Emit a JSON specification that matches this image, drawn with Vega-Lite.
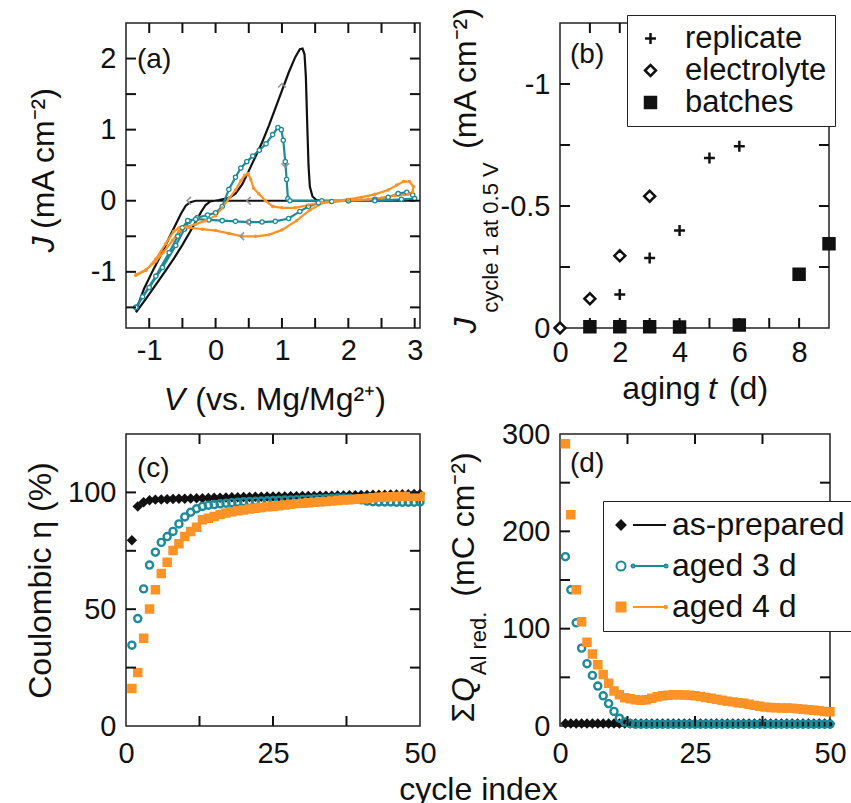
{
"$schema": "https://vega.github.io/schema/vega-lite/v6.json",
"padding": {"left": 23, "top": 5, "right": 0, "bottom": 0},
"config": {
  "font": "Liberation Sans",
  "view": {"stroke": "#222", "strokeWidth": 1.5},
  "axis": {"domain": false, "grid": false, "ticks": false, "labelFontSize": 29, "labelColor": "#111", "labelPadding": 10, "labelFlush": false, "labelOverlap": false, "labelBound": false, "titleFontSize": 32, "titleFontWeight": "normal", "titleColor": "#111", "titleBaseline": "alphabetic"},
  "title": {"anchor": "start", "frame": "group", "fontSize": 28, "fontWeight": "normal", "color": "#111", "baseline": "alphabetic", "offset": -51, "dx": 11},
  "tick": {"thickness": 2, "bandSize": 20}
},
"bounds": "flush",
"columns": 2,
"spacing": {"row": 106, "column": 140},
"resolve": {"scale": {"color": "independent", "stroke": "independent", "fill": "independent", "shape": "independent"}},
"datasets": {
  "arrows": [
    {"v":1.0,"j":1.62,"d":"up"},{"v":1.05,"j":0.5,"d":"down"},{"v":0.5,"j":0,"d":"left"},{"v":-0.4,"j":0,"d":"left"},{"v":0.5,"j":-0.3,"d":"left"},{"v":0.4,"j":-0.5,"d":"left"}
  ],
  "ta_x": [{"v":-1},{"v":-0.5},{"v":0},{"v":0.5},{"v":1},{"v":1.5},{"v":2},{"v":2.5},{"v":3}],
  "ta_y": [{"v":-1.5},{"v":-1},{"v":-0.5},{"v":0},{"v":0.5},{"v":1},{"v":1.5},{"v":2}],
  "tb_x": [{"v":1},{"v":2},{"v":3},{"v":4},{"v":5},{"v":6},{"v":7},{"v":8}],
  "tb_y": [{"v":-1},{"v":-0.75},{"v":-0.5},{"v":-0.25}],
  "tcd_x": [{"v":12.5},{"v":25},{"v":37.5}],
  "tc_y": [{"v":25},{"v":50},{"v":75},{"v":100}],
  "td_y": [{"v":50},{"v":100},{"v":150},{"v":200},{"v":250}],
  "cv": [
    {"s":"as-prepared","i":1,"v":-1.2,"j":-1.57},{"s":"as-prepared","i":2,"v":-1.05,"j":-1.38},{"s":"as-prepared","i":3,"v":-0.9,"j":-1.18},{"s":"as-prepared","i":4,"v":-0.75,"j":-0.98},{"s":"as-prepared","i":5,"v":-0.62,"j":-0.8},{"s":"as-prepared","i":6,"v":-0.5,"j":-0.62},{"s":"as-prepared","i":7,"v":-0.4,"j":-0.46},{"s":"as-prepared","i":8,"v":-0.3,"j":-0.3},{"s":"as-prepared","i":9,"v":-0.22,"j":-0.16},{"s":"as-prepared","i":10,"v":-0.15,"j":-0.06},{"s":"as-prepared","i":11,"v":-0.08,"j":-0.01},{"s":"as-prepared","i":12,"v":0.05,"j":0.01},{"s":"as-prepared","i":13,"v":0.2,"j":0.04},{"s":"as-prepared","i":14,"v":0.3,"j":0.1},{"s":"as-prepared","i":15,"v":0.4,"j":0.23},{"s":"as-prepared","i":16,"v":0.5,"j":0.42},{"s":"as-prepared","i":17,"v":0.6,"j":0.62},{"s":"as-prepared","i":18,"v":0.7,"j":0.82},{"s":"as-prepared","i":19,"v":0.8,"j":1.05},{"s":"as-prepared","i":20,"v":0.9,"j":1.3},{"s":"as-prepared","i":21,"v":1.0,"j":1.55},{"s":"as-prepared","i":22,"v":1.1,"j":1.8},{"s":"as-prepared","i":23,"v":1.2,"j":2.02},{"s":"as-prepared","i":24,"v":1.27,"j":2.13},{"s":"as-prepared","i":25,"v":1.31,"j":2.14},{"s":"as-prepared","i":26,"v":1.34,"j":2.06},{"s":"as-prepared","i":27,"v":1.36,"j":1.75},{"s":"as-prepared","i":28,"v":1.38,"j":1.1},{"s":"as-prepared","i":29,"v":1.4,"j":0.5},{"s":"as-prepared","i":30,"v":1.42,"j":0.2},{"s":"as-prepared","i":31,"v":1.46,"j":0.06},{"s":"as-prepared","i":32,"v":1.52,"j":0.01},{"s":"as-prepared","i":33,"v":1.62,"j":0},{"s":"as-prepared","i":34,"v":3.0,"j":0},{"s":"as-prepared","i":35,"v":-0.3,"j":0},{"s":"as-prepared","i":36,"v":-0.38,"j":-0.02},{"s":"as-prepared","i":37,"v":-0.45,"j":-0.07},{"s":"as-prepared","i":38,"v":-0.52,"j":-0.18},{"s":"as-prepared","i":39,"v":-0.6,"j":-0.33},{"s":"as-prepared","i":40,"v":-0.7,"j":-0.52},{"s":"as-prepared","i":41,"v":-0.8,"j":-0.72},{"s":"as-prepared","i":42,"v":-0.95,"j":-0.99},{"s":"as-prepared","i":43,"v":-1.08,"j":-1.24},{"s":"as-prepared","i":44,"v":-1.2,"j":-1.55},
    {"s":"aged 3 d","i":1,"v":-1.2,"j":-1.5},{"s":"aged 3 d","i":2,"v":-1.0,"j":-1.22},{"s":"aged 3 d","i":3,"v":-0.8,"j":-0.94},{"s":"aged 3 d","i":4,"v":-0.6,"j":-0.63},{"s":"aged 3 d","i":5,"v":-0.47,"j":-0.4},{"s":"aged 3 d","i":6,"v":-0.4,"j":-0.29},{"s":"aged 3 d","i":7,"v":-0.28,"j":-0.24},{"s":"aged 3 d","i":8,"v":-0.12,"j":-0.2},{"s":"aged 3 d","i":9,"v":0.0,"j":-0.17},{"s":"aged 3 d","i":10,"v":0.1,"j":-0.08},{"s":"aged 3 d","i":11,"v":0.2,"j":0.16},{"s":"aged 3 d","i":12,"v":0.3,"j":0.33},{"s":"aged 3 d","i":13,"v":0.38,"j":0.46},{"s":"aged 3 d","i":14,"v":0.47,"j":0.55},{"s":"aged 3 d","i":15,"v":0.56,"j":0.63},{"s":"aged 3 d","i":16,"v":0.66,"j":0.71},{"s":"aged 3 d","i":17,"v":0.76,"j":0.8},{"s":"aged 3 d","i":18,"v":0.86,"j":0.93},{"s":"aged 3 d","i":19,"v":0.94,"j":1.03},{"s":"aged 3 d","i":20,"v":0.99,"j":1.0},{"s":"aged 3 d","i":21,"v":1.02,"j":0.85},{"s":"aged 3 d","i":22,"v":1.05,"j":0.55},{"s":"aged 3 d","i":23,"v":1.07,"j":0.3},{"s":"aged 3 d","i":24,"v":1.09,"j":0.03},{"s":"aged 3 d","i":25,"v":1.12,"j":0.0},{"s":"aged 3 d","i":26,"v":1.6,"j":0.0},{"s":"aged 3 d","i":27,"v":2.0,"j":0.0},{"s":"aged 3 d","i":28,"v":2.4,"j":0.02},{"s":"aged 3 d","i":29,"v":2.6,"j":0.05},{"s":"aged 3 d","i":30,"v":2.75,"j":0.1},{"s":"aged 3 d","i":31,"v":2.88,"j":0.12},{"s":"aged 3 d","i":32,"v":2.97,"j":0.08},{"s":"aged 3 d","i":33,"v":3.0,"j":0.03},{"s":"aged 3 d","i":34,"v":2.8,"j":0.02},{"s":"aged 3 d","i":35,"v":2.4,"j":0.0},{"s":"aged 3 d","i":36,"v":2.0,"j":0.0},{"s":"aged 3 d","i":37,"v":1.75,"j":-0.01},{"s":"aged 3 d","i":38,"v":1.55,"j":-0.03},{"s":"aged 3 d","i":39,"v":1.4,"j":-0.08},{"s":"aged 3 d","i":40,"v":1.27,"j":-0.15},{"s":"aged 3 d","i":41,"v":1.1,"j":-0.25},{"s":"aged 3 d","i":42,"v":0.9,"j":-0.29},{"s":"aged 3 d","i":43,"v":0.7,"j":-0.3},{"s":"aged 3 d","i":44,"v":0.5,"j":-0.3},{"s":"aged 3 d","i":45,"v":0.3,"j":-0.29},{"s":"aged 3 d","i":46,"v":0.1,"j":-0.28},{"s":"aged 3 d","i":47,"v":-0.1,"j":-0.27},{"s":"aged 3 d","i":48,"v":-0.3,"j":-0.26},{"s":"aged 3 d","i":49,"v":-0.42,"j":-0.28},{"s":"aged 3 d","i":50,"v":-0.5,"j":-0.38},{"s":"aged 3 d","i":51,"v":-0.57,"j":-0.5},{"s":"aged 3 d","i":52,"v":-0.7,"j":-0.73},{"s":"aged 3 d","i":53,"v":-0.9,"j":-1.06},{"s":"aged 3 d","i":54,"v":-1.1,"j":-1.35},{"s":"aged 3 d","i":55,"v":-1.2,"j":-1.5},
    {"s":"aged 4 d","i":1,"v":-1.2,"j":-1.04},{"s":"aged 4 d","i":2,"v":-1.05,"j":-0.97},{"s":"aged 4 d","i":3,"v":-0.9,"j":-0.85},{"s":"aged 4 d","i":4,"v":-0.78,"j":-0.72},{"s":"aged 4 d","i":5,"v":-0.65,"j":-0.56},{"s":"aged 4 d","i":6,"v":-0.55,"j":-0.43},{"s":"aged 4 d","i":7,"v":-0.45,"j":-0.37},{"s":"aged 4 d","i":8,"v":-0.3,"j":-0.33},{"s":"aged 4 d","i":9,"v":-0.15,"j":-0.28},{"s":"aged 4 d","i":10,"v":0.0,"j":-0.21},{"s":"aged 4 d","i":11,"v":0.1,"j":-0.1},{"s":"aged 4 d","i":12,"v":0.2,"j":0.03},{"s":"aged 4 d","i":13,"v":0.3,"j":0.15},{"s":"aged 4 d","i":14,"v":0.38,"j":0.28},{"s":"aged 4 d","i":15,"v":0.44,"j":0.36},{"s":"aged 4 d","i":16,"v":0.49,"j":0.38},{"s":"aged 4 d","i":17,"v":0.53,"j":0.3},{"s":"aged 4 d","i":18,"v":0.57,"j":0.18},{"s":"aged 4 d","i":19,"v":0.65,"j":0.1},{"s":"aged 4 d","i":20,"v":0.75,"j":0.0},{"s":"aged 4 d","i":21,"v":0.86,"j":-0.08},{"s":"aged 4 d","i":22,"v":1.0,"j":-0.1},{"s":"aged 4 d","i":23,"v":1.2,"j":-0.1},{"s":"aged 4 d","i":24,"v":1.4,"j":-0.06},{"s":"aged 4 d","i":25,"v":1.6,"j":-0.02},{"s":"aged 4 d","i":26,"v":1.8,"j":0.0},{"s":"aged 4 d","i":27,"v":2.0,"j":0.02},{"s":"aged 4 d","i":28,"v":2.2,"j":0.05},{"s":"aged 4 d","i":29,"v":2.4,"j":0.09},{"s":"aged 4 d","i":30,"v":2.6,"j":0.15},{"s":"aged 4 d","i":31,"v":2.73,"j":0.22},{"s":"aged 4 d","i":32,"v":2.83,"j":0.27},{"s":"aged 4 d","i":33,"v":2.92,"j":0.27},{"s":"aged 4 d","i":34,"v":2.98,"j":0.2},{"s":"aged 4 d","i":35,"v":2.97,"j":0.12},{"s":"aged 4 d","i":36,"v":2.9,"j":0.09},{"s":"aged 4 d","i":37,"v":2.7,"j":0.07},{"s":"aged 4 d","i":38,"v":2.5,"j":0.04},{"s":"aged 4 d","i":39,"v":2.3,"j":0.02},{"s":"aged 4 d","i":40,"v":2.0,"j":0.0},{"s":"aged 4 d","i":41,"v":1.8,"j":-0.01},{"s":"aged 4 d","i":42,"v":1.62,"j":-0.03},{"s":"aged 4 d","i":43,"v":1.42,"j":-0.13},{"s":"aged 4 d","i":44,"v":1.22,"j":-0.28},{"s":"aged 4 d","i":45,"v":1.0,"j":-0.41},{"s":"aged 4 d","i":46,"v":0.8,"j":-0.48},{"s":"aged 4 d","i":47,"v":0.6,"j":-0.5},{"s":"aged 4 d","i":48,"v":0.4,"j":-0.5},{"s":"aged 4 d","i":49,"v":0.2,"j":-0.46},{"s":"aged 4 d","i":50,"v":0.0,"j":-0.42},{"s":"aged 4 d","i":51,"v":-0.2,"j":-0.4},{"s":"aged 4 d","i":52,"v":-0.4,"j":-0.38},{"s":"aged 4 d","i":53,"v":-0.55,"j":-0.38},{"s":"aged 4 d","i":54,"v":-0.63,"j":-0.43},{"s":"aged 4 d","i":55,"v":-0.75,"j":-0.6},{"s":"aged 4 d","i":56,"v":-0.9,"j":-0.82},{"s":"aged 4 d","i":57,"v":-1.05,"j":-0.98},{"s":"aged 4 d","i":58,"v":-1.2,"j":-1.05}
  ],
  "aging": [
    {"t":0,"j":0,"s":"replicate"},{"t":2,"j":-0.137,"s":"replicate"},{"t":3,"j":-0.287,"s":"replicate"},{"t":4,"j":-0.4,"s":"replicate"},{"t":5,"j":-0.697,"s":"replicate"},{"t":6,"j":-0.745,"s":"replicate"},
    {"t":0,"j":0,"s":"electrolyte"},{"t":1,"j":-0.12,"s":"electrolyte"},{"t":2,"j":-0.296,"s":"electrolyte"},{"t":3,"j":-0.54,"s":"electrolyte"},
    {"t":1,"j":-0.005,"s":"batches"},{"t":2,"j":-0.005,"s":"batches"},{"t":3,"j":-0.005,"s":"batches"},{"t":4,"j":-0.004,"s":"batches"},{"t":6,"j":-0.012,"s":"batches"},{"t":8,"j":-0.22,"s":"batches"},{"t":9,"j":-0.345,"s":"batches"}
  ],
  "cyc": [
    {"s":"as-prepared","c":1,"e":79.5,"q":2.5},{"s":"as-prepared","c":2,"e":94,"q":2.5},{"s":"as-prepared","c":3,"e":95.8,"q":2.5},{"s":"as-prepared","c":4,"e":96.6,"q":2.5},{"s":"as-prepared","c":5,"e":96.9,"q":2.5},{"s":"as-prepared","c":6,"e":97.0,"q":2.5},{"s":"as-prepared","c":7,"e":97.1,"q":2.5},{"s":"as-prepared","c":8,"e":97.2,"q":2.5},{"s":"as-prepared","c":9,"e":97.3,"q":2.5},{"s":"as-prepared","c":10,"e":97.3,"q":2.5},
    {"s":"as-prepared","c":11,"e":97.4,"q":2.5},{"s":"as-prepared","c":12,"e":97.5,"q":2.5},{"s":"as-prepared","c":13,"e":97.5,"q":2.5},{"s":"as-prepared","c":14,"e":97.6,"q":2.5},{"s":"as-prepared","c":15,"e":97.7,"q":2.5},{"s":"as-prepared","c":16,"e":97.7,"q":2.5},{"s":"as-prepared","c":17,"e":97.8,"q":2.5},{"s":"as-prepared","c":18,"e":97.9,"q":2.5},{"s":"as-prepared","c":19,"e":97.9,"q":2.5},{"s":"as-prepared","c":20,"e":98.0,"q":2.5},
    {"s":"as-prepared","c":21,"e":98.0,"q":2.5},{"s":"as-prepared","c":22,"e":98.1,"q":2.5},{"s":"as-prepared","c":23,"e":98.1,"q":2.5},{"s":"as-prepared","c":24,"e":98.2,"q":2.5},{"s":"as-prepared","c":25,"e":98.2,"q":2.5},{"s":"as-prepared","c":26,"e":98.3,"q":2.5},{"s":"as-prepared","c":27,"e":98.3,"q":2.5},{"s":"as-prepared","c":28,"e":98.4,"q":2.5},{"s":"as-prepared","c":29,"e":98.4,"q":2.5},{"s":"as-prepared","c":30,"e":98.5,"q":2.5},
    {"s":"as-prepared","c":31,"e":98.5,"q":2.5},{"s":"as-prepared","c":32,"e":98.5,"q":2.5},{"s":"as-prepared","c":33,"e":98.6,"q":2.5},{"s":"as-prepared","c":34,"e":98.6,"q":2.5},{"s":"as-prepared","c":35,"e":98.6,"q":2.5},{"s":"as-prepared","c":36,"e":98.7,"q":2.5},{"s":"as-prepared","c":37,"e":98.7,"q":2.5},{"s":"as-prepared","c":38,"e":98.8,"q":2.5},{"s":"as-prepared","c":39,"e":98.8,"q":2.5},{"s":"as-prepared","c":40,"e":98.9,"q":2.5},
    {"s":"as-prepared","c":41,"e":98.9,"q":2.5},{"s":"as-prepared","c":42,"e":99.0,"q":2.5},{"s":"as-prepared","c":43,"e":99.0,"q":2.5},{"s":"as-prepared","c":44,"e":99.0,"q":2.5},{"s":"as-prepared","c":45,"e":99.1,"q":2.5},{"s":"as-prepared","c":46,"e":99.1,"q":2.5},{"s":"as-prepared","c":47,"e":99.2,"q":2.5},{"s":"as-prepared","c":48,"e":99.2,"q":2.5},{"s":"as-prepared","c":49,"e":99.3,"q":2.5},{"s":"as-prepared","c":50,"e":99.3,"q":2.5},
    {"s":"aged 3 d","c":1,"e":34.6,"q":174},{"s":"aged 3 d","c":2,"e":46,"q":140},{"s":"aged 3 d","c":3,"e":58.7,"q":106},{"s":"aged 3 d","c":4,"e":68.9,"q":80},{"s":"aged 3 d","c":5,"e":74.4,"q":64},{"s":"aged 3 d","c":6,"e":78.6,"q":52},{"s":"aged 3 d","c":7,"e":81.1,"q":41},{"s":"aged 3 d","c":8,"e":83.3,"q":31},{"s":"aged 3 d","c":9,"e":86.5,"q":23},{"s":"aged 3 d","c":10,"e":89.5,"q":15},
    {"s":"aged 3 d","c":11,"e":91.5,"q":8},{"s":"aged 3 d","c":12,"e":93,"q":4},{"s":"aged 3 d","c":13,"e":94,"q":2.5},{"s":"aged 3 d","c":14,"e":94.5,"q":1.8},{"s":"aged 3 d","c":15,"e":94.8,"q":1.8},{"s":"aged 3 d","c":16,"e":95.1,"q":1.8},{"s":"aged 3 d","c":17,"e":95.4,"q":1.8},{"s":"aged 3 d","c":18,"e":95.6,"q":1.8},{"s":"aged 3 d","c":19,"e":95.8,"q":1.8},{"s":"aged 3 d","c":20,"e":96,"q":1.8},
    {"s":"aged 3 d","c":21,"e":96.1,"q":1.8},{"s":"aged 3 d","c":22,"e":96.2,"q":1.8},{"s":"aged 3 d","c":23,"e":96.3,"q":1.8},{"s":"aged 3 d","c":24,"e":96.4,"q":1.8},{"s":"aged 3 d","c":25,"e":96.5,"q":1.8},{"s":"aged 3 d","c":26,"e":96.6,"q":1.8},{"s":"aged 3 d","c":27,"e":96.7,"q":1.8},{"s":"aged 3 d","c":28,"e":96.8,"q":1.8},{"s":"aged 3 d","c":29,"e":96.9,"q":1.8},{"s":"aged 3 d","c":30,"e":97,"q":1.8},
    {"s":"aged 3 d","c":31,"e":97.1,"q":1.8},{"s":"aged 3 d","c":32,"e":97.2,"q":1.8},{"s":"aged 3 d","c":33,"e":97.3,"q":1.8},{"s":"aged 3 d","c":34,"e":97.4,"q":1.8},{"s":"aged 3 d","c":35,"e":97.5,"q":1.8},{"s":"aged 3 d","c":36,"e":97.6,"q":1.8},{"s":"aged 3 d","c":37,"e":97.6,"q":1.8},{"s":"aged 3 d","c":38,"e":97.5,"q":1.8},{"s":"aged 3 d","c":39,"e":97.2,"q":1.8},{"s":"aged 3 d","c":40,"e":96.8,"q":1.8},
    {"s":"aged 3 d","c":41,"e":96.3,"q":1.8},{"s":"aged 3 d","c":42,"e":96,"q":1.8},{"s":"aged 3 d","c":43,"e":95.9,"q":1.8},{"s":"aged 3 d","c":44,"e":95.9,"q":1.8},{"s":"aged 3 d","c":45,"e":95.9,"q":1.8},{"s":"aged 3 d","c":46,"e":95.8,"q":1.8},{"s":"aged 3 d","c":47,"e":95.8,"q":1.8},{"s":"aged 3 d","c":48,"e":95.8,"q":1.8},{"s":"aged 3 d","c":49,"e":95.8,"q":1.8},{"s":"aged 3 d","c":50,"e":95.9,"q":1.8},
    {"s":"aged 4 d","c":1,"e":16.1,"q":290},{"s":"aged 4 d","c":2,"e":22.9,"q":217},{"s":"aged 4 d","c":3,"e":37.6,"q":140},{"s":"aged 4 d","c":4,"e":50.1,"q":107},{"s":"aged 4 d","c":5,"e":58.3,"q":86},{"s":"aged 4 d","c":6,"e":65.3,"q":74},{"s":"aged 4 d","c":7,"e":70.1,"q":63},{"s":"aged 4 d","c":8,"e":75.1,"q":53},{"s":"aged 4 d","c":9,"e":78,"q":44},{"s":"aged 4 d","c":10,"e":81.1,"q":36},
    {"s":"aged 4 d","c":11,"e":83.3,"q":32},{"s":"aged 4 d","c":12,"e":85.1,"q":29},{"s":"aged 4 d","c":13,"e":88.3,"q":28},{"s":"aged 4 d","c":14,"e":88.9,"q":27},{"s":"aged 4 d","c":15,"e":89.7,"q":26.5},{"s":"aged 4 d","c":16,"e":90.5,"q":27},{"s":"aged 4 d","c":17,"e":91.2,"q":28.5},{"s":"aged 4 d","c":18,"e":91.7,"q":30},{"s":"aged 4 d","c":19,"e":92.1,"q":31},{"s":"aged 4 d","c":20,"e":92.5,"q":31.5},
    {"s":"aged 4 d","c":21,"e":92.9,"q":32},{"s":"aged 4 d","c":22,"e":93.2,"q":32},{"s":"aged 4 d","c":23,"e":93.5,"q":31.8},{"s":"aged 4 d","c":24,"e":93.8,"q":31.5},{"s":"aged 4 d","c":25,"e":94,"q":31},{"s":"aged 4 d","c":26,"e":94.3,"q":30.2},{"s":"aged 4 d","c":27,"e":94.6,"q":29.3},{"s":"aged 4 d","c":28,"e":94.9,"q":28.4},{"s":"aged 4 d","c":29,"e":95.2,"q":27.5},{"s":"aged 4 d","c":30,"e":95.4,"q":26.5},
    {"s":"aged 4 d","c":31,"e":95.6,"q":25.5},{"s":"aged 4 d","c":32,"e":95.8,"q":24.8},{"s":"aged 4 d","c":33,"e":96,"q":24},{"s":"aged 4 d","c":34,"e":96.1,"q":23.3},{"s":"aged 4 d","c":35,"e":96.3,"q":22.3},{"s":"aged 4 d","c":36,"e":96.5,"q":21.2},{"s":"aged 4 d","c":37,"e":96.7,"q":20.2},{"s":"aged 4 d","c":38,"e":96.9,"q":19.4},{"s":"aged 4 d","c":39,"e":97.1,"q":19},{"s":"aged 4 d","c":40,"e":97.3,"q":18.8},
    {"s":"aged 4 d","c":41,"e":97.5,"q":18.6},{"s":"aged 4 d","c":42,"e":97.7,"q":18.4},{"s":"aged 4 d","c":43,"e":97.9,"q":18.2},{"s":"aged 4 d","c":44,"e":98,"q":17.8},{"s":"aged 4 d","c":45,"e":98.1,"q":17.3},{"s":"aged 4 d","c":46,"e":98.2,"q":16.8},{"s":"aged 4 d","c":47,"e":98.2,"q":16.2},{"s":"aged 4 d","c":48,"e":98.3,"q":15.6},{"s":"aged 4 d","c":49,"e":98.3,"q":15},{"s":"aged 4 d","c":50,"e":98.3,"q":14.6}
  ]
},
"concat": [
  {
    "width": 294, "height": 305,
    "title": {"text": "(a)"},
    "layer": [
      {"data": {"name": "cv"},
       "mark": {"type": "line", "strokeWidth": 2.2},
       "encoding": {
         "x": {"field": "v", "type": "quantitative", "scale": {"domain": [-1.35, 3.08], "nice": false, "zero": false},
               "axis": {"values": [-1,-0.5,0,0.5,1,1.5,2,2.5,3], "labelPadding": 8, "labelExpr": "datum.value % 1 === 0 ? (datum.value < 0 ? '-' : '') + abs(datum.value) : ''", "title": "V", "titleFontStyle": "italic", "titleX": 48, "titleY": 81, "titleAlign": "center"}},
         "y": {"field": "j", "type": "quantitative", "scale": {"domain": [-1.79, 2.5], "nice": false, "zero": false},
               "axis": {"values": [-1.5,-1,-0.5,0,0.5,1,1.5,2], "labelExpr": "datum.value % 1 === 0 ? (datum.value < 0 ? '-' : '') + abs(datum.value) : ''", "title": "J", "titleFontStyle": "italic", "titleX": -73, "titleY": 221, "titleAngle": 270, "titleAlign": "center"}},
         "order": {"field": "i", "type": "quantitative"},
         "color": {"field": "s", "type": "nominal", "scale": {"domain": ["as-prepared", "aged 3 d", "aged 4 d"], "range": ["#111111", "#1d8a98", "#fd9226"]}, "legend": null}
       }},
      {"data": {"name": "cv"},
       "transform": [{"filter": "datum.s === 'aged 3 d'"}],
       "mark": {"type": "point", "shape": "circle", "size": 18, "strokeWidth": 1.3, "color": "#1d8a98", "filled": false, "fill": "white", "opacity": 1},
       "encoding": {
         "x": {"field": "v", "type": "quantitative", "scale": {"domain": [-1.35, 3.08], "nice": false, "zero": false}, "axis": null},
         "y": {"field": "j", "type": "quantitative", "scale": {"domain": [-1.79, 2.5], "nice": false, "zero": false}, "axis": null}
       }},
      {"data": {"name": "cv"},
       "transform": [{"filter": "datum.s === 'aged 4 d'"}],
       "mark": {"type": "point", "shape": "circle", "size": 12, "filled": true, "color": "#fd9226", "opacity": 1},
       "encoding": {
         "x": {"field": "v", "type": "quantitative", "scale": {"domain": [-1.35, 3.08], "nice": false, "zero": false}, "axis": null},
         "y": {"field": "j", "type": "quantitative", "scale": {"domain": [-1.79, 2.5], "nice": false, "zero": false}, "axis": null}
       }},
      {"data": {"name": "arrows"},
       "mark": {"type": "point", "size": 60, "strokeWidth": 1.6, "color": "#8c8c8c", "filled": false, "opacity": 0.9},
       "encoding": {
         "x": {"field": "v", "type": "quantitative", "scale": {"domain": [-1.35, 3.08], "nice": false, "zero": false}, "axis": null},
         "y": {"field": "j", "type": "quantitative", "scale": {"domain": [-1.79, 2.5], "nice": false, "zero": false}, "axis": null},
         "shape": {"field": "d", "type": "nominal", "scale": {"domain": ["left", "down", "up"], "range": ["M0.5,-1L-0.5,0L0.5,1", "M-1,-0.5L0,0.5L1,-0.5", "M-1,0.5L0,-0.5L1,0.5"]}, "legend": null}
       }},
      {"data": {"name": "ta_x"},
       "mark": {"type": "tick", "orient": "vertical", "size": 20, "thickness": 2, "color": "#111111", "opacity": 1, "clip": true},
       "encoding": {
         "x": {"field": "v", "type": "quantitative", "scale": {"domain": [-1.35, 3.08], "nice": false, "zero": false}, "axis": null},
         "y": {"datum": 2.5, "type": "quantitative", "scale": {"domain": [-1.79, 2.5], "nice": false, "zero": false}, "axis": null}
       }},
      {"data": {"name": "ta_x"},
       "mark": {"type": "tick", "orient": "vertical", "size": 20, "thickness": 2, "color": "#111111", "opacity": 1, "clip": true},
       "encoding": {
         "x": {"field": "v", "type": "quantitative", "scale": {"domain": [-1.35, 3.08], "nice": false, "zero": false}, "axis": null},
         "y": {"datum": -1.79, "type": "quantitative", "scale": {"domain": [-1.79, 2.5], "nice": false, "zero": false}, "axis": null}
       }},
      {"data": {"name": "ta_y"},
       "mark": {"type": "tick", "orient": "horizontal", "size": 20, "thickness": 2, "color": "#111111", "opacity": 1, "clip": true},
       "encoding": {
         "y": {"field": "v", "type": "quantitative", "scale": {"domain": [-1.79, 2.5], "nice": false, "zero": false}, "axis": null},
         "x": {"datum": -1.35, "type": "quantitative", "scale": {"domain": [-1.35, 3.08], "nice": false, "zero": false}, "axis": null}
       }},
      {"data": {"name": "ta_y"},
       "mark": {"type": "tick", "orient": "horizontal", "size": 20, "thickness": 2, "color": "#111111", "opacity": 1, "clip": true},
       "encoding": {
         "y": {"field": "v", "type": "quantitative", "scale": {"domain": [-1.79, 2.5], "nice": false, "zero": false}, "axis": null},
         "x": {"datum": 3.08, "type": "quantitative", "scale": {"domain": [-1.35, 3.08], "nice": false, "zero": false}, "axis": null}
       }},
      {"data": {"name": "cv"},
       "mark": {"type": "point", "opacity": 0},
       "encoding": {
         "x": {"field": "v", "type": "quantitative", "scale": {"domain": [-1.35, 3.08], "nice": false, "zero": false}, "axis": {"orient": "bottom", "labels": false, "title": "(vs. Mg/Mg²⁺)", "titleX": 164, "titleY": 81, "titleAlign": "center"}},
         "y": {"field": "j", "type": "quantitative", "scale": {"domain": [-1.79, 2.5], "nice": false, "zero": false}, "axis": {"orient": "left", "labels": false, "title": "(mA cm⁻²)", "titleX": -73, "titleY": 135, "titleAngle": 270, "titleAlign": "center"}}
       }}
    ],
    "resolve": {"axis": {"x": "independent", "y": "independent"}}
  },
  {
    "width": 269, "height": 305,
    "title": {"text": "(b)", "offset": -62, "dx": 10},
    "data": {"name": "aging"},
    "layer": [
      {"mark": {"type": "point", "size": 120, "strokeWidth": 2.5, "stroke": "#111111", "opacity": 1},
       "encoding": {
         "x": {"field": "t", "type": "quantitative", "scale": {"domain": [0, 9], "nice": false, "zero": false},
               "axis": {"values": [0,1,2,3,4,5,6,7,8,9], "labelExpr": "datum.value % 2 === 0 && datum.value < 9 ? '' + datum.value : ''", "title": "aging", "titleX": 101, "titleY": 70, "titleAlign": "center"}},
         "y": {"field": "j", "type": "quantitative", "scale": {"domain": [-1.25, 0], "reverse": true, "nice": false, "zero": false},
               "axis": {"values": [-1,-0.75,-0.5,-0.25,0], "labelExpr": "datum.value % 0.5 === 0 ? (datum.value < 0 ? '-' : '') + abs(datum.value) : ''", "title": "J", "titleFontStyle": "italic", "titleX": -85, "titleY": 302, "titleAngle": 270, "titleAlign": "center"}},
         "shape": {"field": "s", "type": "nominal", "scale": {"domain": ["replicate", "electrolyte", "batches"], "range": ["M-1,0H1M0,-1V1", "diamond", "square"]}, "legend": null},
         "fill": {"field": "s", "type": "nominal", "scale": {"domain": ["replicate", "electrolyte", "batches"], "range": ["transparent", "white", "#111111"]}, "legend": null}
       }},
      {"transform": [{"filter": "false"}],
       "mark": {"type": "point", "size": 120, "strokeWidth": 2.5, "opacity": 1},
       "encoding": {
         "x": {"field": "t", "type": "quantitative", "scale": {"domain": [0, 9], "nice": false, "zero": false}, "axis": null},
         "y": {"field": "j", "type": "quantitative", "scale": {"domain": [-1.25, 0], "reverse": true, "nice": false, "zero": false}, "axis": null},
         "shape": {"field": "s", "type": "nominal", "scale": {"domain": ["replicate", "electrolyte", "batches"], "range": ["M-1,0H1M0,-1V1", "diamond", "square"]},
                   "legend": {"orient": "none", "legendX": 67, "legendY": -8, "title": null, "labelFontSize": 31, "labelColor": "#111", "padding": 8, "strokeColor": "#222", "fillColor": "white", "symbolStrokeWidth": 2.5, "symbolSize": 120, "labelOffset": 19, "rowPadding": 0}},
         "fill": {"field": "s", "type": "nominal", "scale": {"domain": ["replicate", "electrolyte", "batches"], "range": ["transparent", "white", "#111111"]},
                  "legend": {"orient": "none", "legendX": 67, "legendY": -8, "title": null, "labelFontSize": 31, "labelColor": "#111", "padding": 8, "strokeColor": "#222", "fillColor": "white", "symbolStrokeWidth": 2.5, "symbolSize": 120, "labelOffset": 19, "rowPadding": 0}},
         "stroke": {"field": "s", "type": "nominal", "scale": {"domain": ["replicate", "electrolyte", "batches"], "range": ["#111111", "#111111", "#111111"]},
                  "legend": {"orient": "none", "legendX": 67, "legendY": -8, "title": null, "labelFontSize": 31, "labelColor": "#111", "padding": 8, "strokeColor": "#222", "fillColor": "white", "symbolStrokeWidth": 2.5, "symbolSize": 120, "labelOffset": 19, "rowPadding": 0}}
       }},
      {"data": {"name": "tb_x"},
       "mark": {"type": "tick", "orient": "vertical", "size": 20, "thickness": 2, "color": "#111111", "opacity": 1, "clip": true},
       "encoding": {
         "x": {"field": "v", "type": "quantitative", "scale": {"domain": [0, 9], "nice": false, "zero": false}, "axis": null},
         "y": {"datum": -1.25, "type": "quantitative", "scale": {"domain": [-1.25, 0], "reverse": true, "nice": false, "zero": false}, "axis": null}
       }},
      {"data": {"name": "tb_x"},
       "mark": {"type": "tick", "orient": "vertical", "size": 20, "thickness": 2, "color": "#111111", "opacity": 1, "clip": true},
       "encoding": {
         "x": {"field": "v", "type": "quantitative", "scale": {"domain": [0, 9], "nice": false, "zero": false}, "axis": null},
         "y": {"datum": 0, "type": "quantitative", "scale": {"domain": [-1.25, 0], "reverse": true, "nice": false, "zero": false}, "axis": null}
       }},
      {"data": {"name": "tb_y"},
       "mark": {"type": "tick", "orient": "horizontal", "size": 20, "thickness": 2, "color": "#111111", "opacity": 1, "clip": true},
       "encoding": {
         "y": {"field": "v", "type": "quantitative", "scale": {"domain": [-1.25, 0], "reverse": true, "nice": false, "zero": false}, "axis": null},
         "x": {"datum": 0, "type": "quantitative", "scale": {"domain": [0, 9], "nice": false, "zero": false}, "axis": null}
       }},
      {"data": {"name": "tb_y"},
       "mark": {"type": "tick", "orient": "horizontal", "size": 20, "thickness": 2, "color": "#111111", "opacity": 1, "clip": true},
       "encoding": {
         "y": {"field": "v", "type": "quantitative", "scale": {"domain": [-1.25, 0], "reverse": true, "nice": false, "zero": false}, "axis": null},
         "x": {"datum": 9, "type": "quantitative", "scale": {"domain": [0, 9], "nice": false, "zero": false}, "axis": null}
       }},
      {"mark": {"type": "point", "opacity": 0},
       "encoding": {
         "x": {"field": "t", "type": "quantitative", "scale": {"domain": [0, 9], "nice": false, "zero": false}, "axis": {"orient": "bottom", "labels": false, "title": "t", "titleFontStyle": "italic", "titleX": 152, "titleY": 70, "titleAlign": "center"}},
         "y": {"field": "j", "type": "quantitative", "scale": {"domain": [-1.25, 0], "reverse": true, "nice": false, "zero": false}, "axis": {"orient": "left", "labels": false, "title": "cycle 1 at 0.5 V", "titleFontSize": 22, "titleX": -63, "titleY": 214, "titleAngle": 270, "titleAlign": "center"}}
       }},
      {"mark": {"type": "point", "opacity": 0},
       "encoding": {
         "x": {"field": "t", "type": "quantitative", "scale": {"domain": [0, 9], "nice": false, "zero": false}, "axis": {"orient": "bottom", "labels": false, "title": "(d)", "titleX": 188, "titleY": 70, "titleAlign": "center"}},
         "y": {"field": "j", "type": "quantitative", "scale": {"domain": [-1.25, 0], "reverse": true, "nice": false, "zero": false}, "axis": {"orient": "left", "labels": false, "title": "(mA cm⁻²)", "titleX": -85, "titleY": 55, "titleAngle": 270, "titleAlign": "center"}}
       }}
    ],
    "resolve": {"axis": {"x": "independent", "y": "independent"}, "scale": {"shape": "independent", "fill": "independent", "stroke": "independent"}}
  },
  {
    "width": 294, "height": 292,
    "title": {"text": "(c)", "offset": -49},
    "layer": [
      {"data": {"name": "cyc"},
       "mark": {"type": "point", "strokeWidth": 2.4, "size": 50, "opacity": 1},
       "encoding": {
         "x": {"field": "c", "type": "quantitative", "scale": {"domain": [0, 50], "nice": false, "zero": false},
               "axis": {"values": [0,12.5,25,37.5,50], "labelPadding": 13, "labelExpr": "datum.value % 25 === 0 ? '' + datum.value : ''", "title": "cycle index", "titleX": 352, "titleY": 73, "titleAlign": "center"}},
         "y": {"field": "e", "type": "quantitative", "scale": {"domain": [0, 125], "nice": false, "zero": false},
               "axis": {"values": [0,25,50,75,100], "labelExpr": "datum.value % 50 === 0 ? '' + datum.value : ''", "title": "Coulombic η (%)", "titleX": -76, "titleAngle": 270, "titleAlign": "center"}},
         "stroke": {"field": "s", "type": "nominal", "scale": {"domain": ["as-prepared", "aged 3 d", "aged 4 d"], "range": ["#111111", "#1d8a98", "#fd9226"]}, "legend": null},
         "fill": {"field": "s", "type": "nominal", "scale": {"domain": ["as-prepared", "aged 3 d", "aged 4 d"], "range": ["#111111", "transparent", "#fd9226"]}, "legend": null},
         "shape": {"field": "s", "type": "nominal", "scale": {"domain": ["as-prepared", "aged 3 d", "aged 4 d"], "range": ["diamond", "circle", "square"]}, "legend": null}
       }},
      {"data": {"name": "tcd_x"},
       "mark": {"type": "tick", "orient": "vertical", "size": 20, "thickness": 2, "color": "#111111", "opacity": 1, "clip": true},
       "encoding": {
         "x": {"field": "v", "type": "quantitative", "scale": {"domain": [0, 50], "nice": false, "zero": false}, "axis": null},
         "y": {"datum": 125, "type": "quantitative", "scale": {"domain": [0, 125], "nice": false, "zero": false}, "axis": null}
       }},
      {"data": {"name": "tcd_x"},
       "mark": {"type": "tick", "orient": "vertical", "size": 20, "thickness": 2, "color": "#111111", "opacity": 1, "clip": true},
       "encoding": {
         "x": {"field": "v", "type": "quantitative", "scale": {"domain": [0, 50], "nice": false, "zero": false}, "axis": null},
         "y": {"datum": 0, "type": "quantitative", "scale": {"domain": [0, 125], "nice": false, "zero": false}, "axis": null}
       }},
      {"data": {"name": "tc_y"},
       "mark": {"type": "tick", "orient": "horizontal", "size": 20, "thickness": 2, "color": "#111111", "opacity": 1, "clip": true},
       "encoding": {
         "y": {"field": "v", "type": "quantitative", "scale": {"domain": [0, 125], "nice": false, "zero": false}, "axis": null},
         "x": {"datum": 0, "type": "quantitative", "scale": {"domain": [0, 50], "nice": false, "zero": false}, "axis": null}
       }},
      {"data": {"name": "tc_y"},
       "mark": {"type": "tick", "orient": "horizontal", "size": 20, "thickness": 2, "color": "#111111", "opacity": 1, "clip": true},
       "encoding": {
         "y": {"field": "v", "type": "quantitative", "scale": {"domain": [0, 125], "nice": false, "zero": false}, "axis": null},
         "x": {"datum": 50, "type": "quantitative", "scale": {"domain": [0, 50], "nice": false, "zero": false}, "axis": null}
       }}
    ],
    "resolve": {"axis": {"x": "independent", "y": "independent"}}
  },
  {
    "width": 270, "height": 292,
    "title": {"text": "(d)", "offset": -58, "dx": 10},
    "data": {"name": "cyc"},
    "layer": [
      {"mark": {"type": "point", "strokeWidth": 2.4, "size": 50, "opacity": 1},
       "encoding": {
         "x": {"field": "c", "type": "quantitative", "scale": {"domain": [0, 50], "nice": false, "zero": false},
               "axis": {"values": [0,12.5,25,37.5,50], "labelPadding": 13, "labelExpr": "datum.value % 25 === 0 ? '' + datum.value : ''", "title": null}},
         "y": {"field": "q", "type": "quantitative", "scale": {"domain": [0, 300], "nice": false, "zero": false},
               "axis": {"values": [0,50,100,150,200,250,300], "labelExpr": "datum.value % 100 === 0 ? '' + datum.value : ''", "title": "Σ", "titleX": -87, "titleY": 278, "titleAngle": 270, "titleAlign": "center"}},
         "stroke": {"field": "s", "type": "nominal", "scale": {"domain": ["as-prepared", "aged 3 d", "aged 4 d"], "range": ["#111111", "#1d8a98", "#fd9226"]}, "legend": null},
         "fill": {"field": "s", "type": "nominal", "scale": {"domain": ["as-prepared", "aged 3 d", "aged 4 d"], "range": ["#111111", "transparent", "#fd9226"]}, "legend": null},
         "shape": {"field": "s", "type": "nominal", "scale": {"domain": ["as-prepared", "aged 3 d", "aged 4 d"], "range": ["diamond", "circle", "square"]}, "legend": null}
       }},
      {"transform": [{"filter": "false"}],
       "mark": {"type": "point", "strokeWidth": 2, "opacity": 1},
       "encoding": {
         "x": {"field": "c", "type": "quantitative", "scale": {"domain": [0, 50], "nice": false, "zero": false}, "axis": null},
         "y": {"field": "q", "type": "quantitative", "scale": {"domain": [0, 300], "nice": false, "zero": false}, "axis": null},
         "stroke": {"field": "s", "type": "nominal", "scale": {"domain": ["as-prepared", "aged 3 d", "aged 4 d"], "range": ["#111111", "#1d8a98", "#fd9226"]},
                    "legend": {"orient": "none", "legendX": 43, "legendY": 67, "title": null, "labelFontSize": 32, "labelColor": "#111", "labelLimit": 400, "padding": 8, "strokeColor": "#222", "fillColor": "white", "symbolSize": 900, "symbolStrokeWidth": 2, "rowPadding": 9, "labelOffset": 29}},
         "fill": {"field": "s", "type": "nominal", "scale": {"domain": ["as-prepared", "aged 3 d", "aged 4 d"], "range": ["#111111", "transparent", "#fd9226"]},
                  "legend": {"orient": "none", "legendX": 43, "legendY": 67, "title": null, "labelFontSize": 32, "labelColor": "#111", "labelLimit": 400, "padding": 8, "strokeColor": "#222", "fillColor": "white", "symbolSize": 900, "symbolStrokeWidth": 2, "rowPadding": 9, "labelOffset": 29}},
         "shape": {"field": "s", "type": "nominal", "scale": {"domain": ["as-prepared", "aged 3 d", "aged 4 d"], "range": ["M-0.7,0L-0.4,-0.3L-0.1,0L-0.4,0.3ZM0.4,0H2.6", "M-0.7,0A0.3,0.3,0,1,0,-0.1,0A0.3,0.3,0,1,0,-0.7,0ZM0.5,0H2.5M0.3,0A0.1,0.1,0,1,0,0.5,0A0.1,0.1,0,1,0,0.3,0ZM2.5,0A0.1,0.1,0,1,0,2.7,0A0.1,0.1,0,1,0,2.5,0Z", "M-0.7,-0.3H-0.1V0.3H-0.7ZM0.4,0H2.6M2.5,0A0.08,0.08,0,1,0,2.66,0A0.08,0.08,0,1,0,2.5,0Z"]},
                   "legend": {"orient": "none", "legendX": 43, "legendY": 67, "title": null, "labelFontSize": 32, "labelColor": "#111", "labelLimit": 400, "padding": 8, "strokeColor": "#222", "fillColor": "white", "symbolSize": 900, "symbolStrokeWidth": 2, "rowPadding": 9, "labelOffset": 29}}
       }},
      {"data": {"name": "tcd_x"},
       "mark": {"type": "tick", "orient": "vertical", "size": 20, "thickness": 2, "color": "#111111", "opacity": 1, "clip": true},
       "encoding": {
         "x": {"field": "v", "type": "quantitative", "scale": {"domain": [0, 50], "nice": false, "zero": false}, "axis": null},
         "y": {"datum": 300, "type": "quantitative", "scale": {"domain": [0, 300], "nice": false, "zero": false}, "axis": null}
       }},
      {"data": {"name": "tcd_x"},
       "mark": {"type": "tick", "orient": "vertical", "size": 20, "thickness": 2, "color": "#111111", "opacity": 1, "clip": true},
       "encoding": {
         "x": {"field": "v", "type": "quantitative", "scale": {"domain": [0, 50], "nice": false, "zero": false}, "axis": null},
         "y": {"datum": 0, "type": "quantitative", "scale": {"domain": [0, 300], "nice": false, "zero": false}, "axis": null}
       }},
      {"data": {"name": "td_y"},
       "mark": {"type": "tick", "orient": "horizontal", "size": 20, "thickness": 2, "color": "#111111", "opacity": 1, "clip": true},
       "encoding": {
         "y": {"field": "v", "type": "quantitative", "scale": {"domain": [0, 300], "nice": false, "zero": false}, "axis": null},
         "x": {"datum": 0, "type": "quantitative", "scale": {"domain": [0, 50], "nice": false, "zero": false}, "axis": null}
       }},
      {"data": {"name": "td_y"},
       "mark": {"type": "tick", "orient": "horizontal", "size": 20, "thickness": 2, "color": "#111111", "opacity": 1, "clip": true},
       "encoding": {
         "y": {"field": "v", "type": "quantitative", "scale": {"domain": [0, 300], "nice": false, "zero": false}, "axis": null},
         "x": {"datum": 50, "type": "quantitative", "scale": {"domain": [0, 50], "nice": false, "zero": false}, "axis": null}
       }},
      {"mark": {"type": "point", "opacity": 0},
       "encoding": {
         "x": {"field": "c", "type": "quantitative", "scale": {"domain": [0, 50], "nice": false, "zero": false}, "axis": null},
         "y": {"field": "q", "type": "quantitative", "scale": {"domain": [0, 300], "nice": false, "zero": false}, "axis": {"orient": "left", "labels": false, "title": "Q", "titleFontStyle": "italic", "titleX": -87, "titleY": 255, "titleAngle": 270, "titleAlign": "center"}}
       }},
      {"mark": {"type": "point", "opacity": 0},
       "encoding": {
         "x": {"field": "c", "type": "quantitative", "scale": {"domain": [0, 50], "nice": false, "zero": false}, "axis": null},
         "y": {"field": "q", "type": "quantitative", "scale": {"domain": [0, 300], "nice": false, "zero": false}, "axis": {"orient": "left", "labels": false, "title": "Al red.", "titleFontSize": 22, "titleX": -75, "titleY": 209, "titleAngle": 270, "titleAlign": "center"}}
       }},
      {"mark": {"type": "point", "opacity": 0},
       "encoding": {
         "x": {"field": "c", "type": "quantitative", "scale": {"domain": [0, 50], "nice": false, "zero": false}, "axis": null},
         "y": {"field": "q", "type": "quantitative", "scale": {"domain": [0, 300], "nice": false, "zero": false}, "axis": {"orient": "left", "labels": false, "title": "(mC cm⁻²)", "titleX": -87, "titleY": 90, "titleAngle": 270, "titleAlign": "center"}}
       }}
    ],
    "resolve": {"axis": {"x": "independent", "y": "independent"}, "scale": {"shape": "independent", "fill": "independent", "stroke": "independent"}}
  }
]
}
